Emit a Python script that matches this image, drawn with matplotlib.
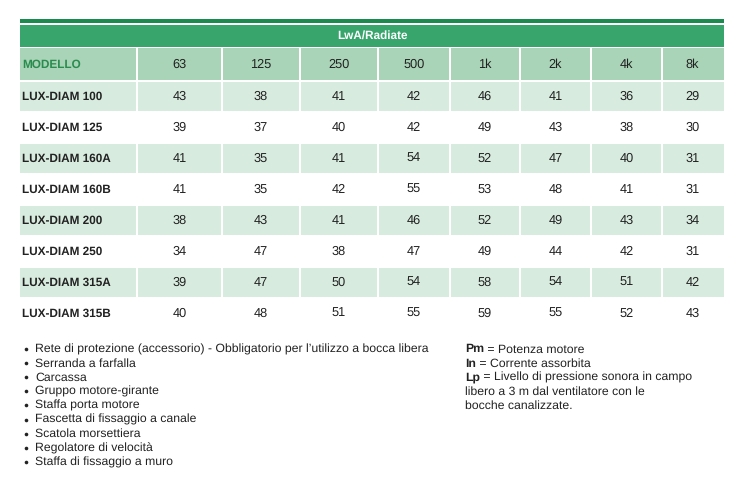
import matplotlib
matplotlib.use("Agg")
import matplotlib.pyplot as plt
from matplotlib.patches import Rectangle

plt.rcParams['font.family'] = ['Liberation Sans', 'DejaVu Sans']
plt.rcParams['text.hinting'] = 'no_hinting'
plt.rcParams['text.hinting_factor'] = 8

title = "LwA/Radiate"
first_header = "MODELLO"
freqs = ["63", "125", "250", "500", "1k", "2k", "4k", "8k"]
models = ["LUX-DIAM 100", "LUX-DIAM 125", "LUX-DIAM 160A", "LUX-DIAM 160B",
          "LUX-DIAM 200", "LUX-DIAM 250", "LUX-DIAM 315A", "LUX-DIAM 315B"]
values = [
    [43, 38, 41, 42, 46, 41, 36, 29],
    [39, 37, 40, 42, 49, 43, 38, 30],
    [41, 35, 41, 54, 52, 47, 40, 31],
    [41, 35, 42, 55, 53, 48, 41, 31],
    [38, 43, 41, 46, 52, 49, 43, 34],
    [34, 47, 38, 47, 49, 44, 42, 31],
    [39, 47, 50, 54, 58, 54, 51, 42],
    [40, 48, 51, 55, 59, 55, 52, 43],
]
bullets = [
    "Rete di protezione (accessorio) - Obbligatorio per l’utilizzo a bocca libera",
    "Serranda a farfalla",
    "Carcassa",
    "Gruppo motore-girante",
    "Staffa porta motore",
    "Fascetta di fissaggio a canale",
    "Scatola morsettiera",
    "Regolatore di velocità",
    "Staffa di fissaggio a muro",
]
legend_items = [
    ("Pm", " = Potenza motore"),
    ("In", " = Corrente assorbita"),
    ("Lp", " = Livello di pressione sonora in campo"),
    ("", "libero a 3 m dal ventilatore con le"),
    ("", "bocche canalizzate."),
]

# layout (pixels)
W, H = 755, 493
col_edges = [20, 138, 223, 301, 379, 451, 521, 592, 663, 724]
gap = 2
row_top = 82
row_h = 31.0
shade_h = 29.0

C_LINE = "#1b8a4f"
C_BAR = "#37a56c"
C_HEAD = "#a9d4b7"
C_SHADE = "#d8ebdf"
C_GREENTXT = "#2b8c4f"
C_TXT = "#222222"
FS = 9.2
FS_BOLD = 8.5
FS_NOTE = 8.85

fig = plt.figure(figsize=(W / 100, H / 100), dpi=100)
ax = fig.add_axes([0, 0, 1, 1])
ax.set_xlim(0, W)
ax.set_ylim(H, 0)
ax.axis("off")

L, R = col_edges[0], col_edges[-1]
ax.add_patch(Rectangle((L, 19), R - L, 3.5, color=C_LINE, lw=0))
ax.add_patch(Rectangle((L, 25), R - L, 21.5, color=C_BAR, lw=0))
ax.text((L + R) / 2, 38.5, title, color="white", fontsize=8.5, fontweight="bold",
        ha="center", va="baseline")

# column header row
for i in range(len(col_edges) - 1):
    x0 = col_edges[i]
    x1 = col_edges[i + 1] - (gap if i < len(col_edges) - 2 else 0)
    ax.add_patch(Rectangle((x0, 48), x1 - x0, 32, color=C_HEAD, lw=0))
ax.text(22.5, 68, first_header, color=C_GREENTXT, fontsize=FS_BOLD, fontweight="bold",
        ha="left", va="baseline")
for i, f in enumerate(freqs):
    cx = (col_edges[i + 1] + col_edges[i + 2] - gap) / 2
    ax.text(cx, 68, f, color=C_TXT, fontsize=FS, ha="center", va="baseline")

# data rows
for r, (m, vals) in enumerate(zip(models, values)):
    y0 = row_top + r * row_h
    yb = y0 + 18.3
    if r % 2 == 0:
        for i in range(len(col_edges) - 1):
            x0 = col_edges[i]
            x1 = col_edges[i + 1] - (gap if i < len(col_edges) - 2 else 0)
            ax.add_patch(Rectangle((x0, y0), x1 - x0, shade_h, color=C_SHADE, lw=0))
    ax.text(22.5, yb, m, color=C_TXT, fontsize=FS_BOLD, fontweight="bold",
            ha="left", va="baseline")
    for i, v in enumerate(vals):
        cx = (col_edges[i + 1] + col_edges[i + 2] - gap) / 2
        ax.text(cx, yb, str(v), color=C_TXT, fontsize=FS, ha="center", va="baseline")

# bullet list
y = 352.5
for b in bullets:
    ax.plot(25.5, y - 3.5, marker="o", ms=2.6, color=C_TXT, mec="none")
    ax.text(35, y, b, color=C_TXT, fontsize=FS_NOTE, ha="left", va="baseline")
    y += 14.1

# legend text on right
fig.canvas.draw()
renderer = fig.canvas.get_renderer()
y = 352.5
for bold, rest in legend_items:
    x = 465
    if bold:
        t = ax.text(x, y, bold, color=C_TXT, fontsize=FS_NOTE, fontweight="bold",
                    ha="left", va="baseline")
        bb = t.get_window_extent(renderer=renderer)
        x = bb.x1  # figure pixels == data x since axes spans the figure
    ax.text(x, y, rest, color=C_TXT, fontsize=FS_NOTE, ha="left", va="baseline")
    y += 14.1

fig.savefig("out.png", dpi=100)
